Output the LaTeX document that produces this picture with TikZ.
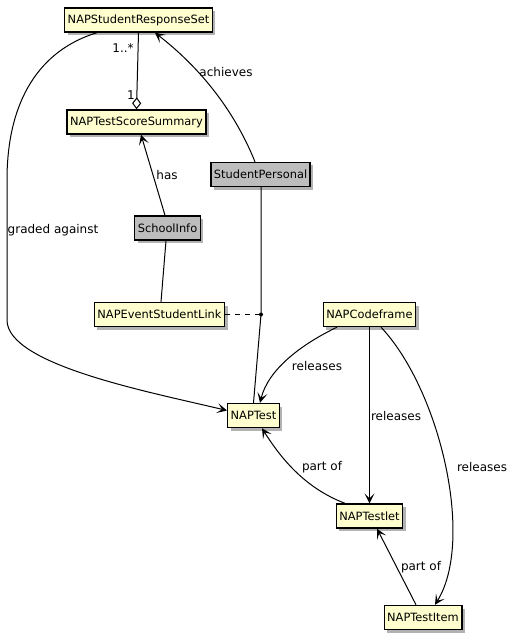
\documentclass[tikz,border=0pt]{standalone}
\usepackage{fontspec}
\setmainfont{DejaVu Sans}
\usetikzlibrary{arrows.meta,shadows}
\definecolor{classyellow}{HTML}{FEFECE}
\definecolor{classgray}{HTML}{BDBDBD}
\tikzset{
  cls/.style={draw=black, line width=1.4bp, fill=classyellow, minimum height=24bp,
    inner xsep=3bp, inner ysep=0bp, font=\fontsize{11.4bp}{13bp}\selectfont,
    drop shadow={shadow xshift=3bp, shadow yshift=-3bp, fill=black, opacity=0.3}},
  grcls/.style={cls, fill=classgray},
  lbl/.style={font=\fontsize{12bp}{14bp}\selectfont, inner sep=0pt},
  conn/.style={line width=1bp, draw=black},
  arr/.style={conn, -{Stealth[length=10bp,width=10bp,inset=5bp]}},
  agg/.style={conn, -{Diamond[fill=white,length=12bp,width=9bp,line width=1bp]}}
}
\begin{document}
\begin{tikzpicture}[x=1bp,y=-1bp]
\useasboundingbox (0,0) rectangle (519,639);
\node[cls] (srs) at (138.5,20) {NAPStudentResponseSet};
\node[cls] (tss) at (136.5,122) {NAPTestScoreSummary};
\node[grcls] (sp) at (260.5,174.5) {StudentPersonal};
\node[grcls] (si) at (167.5,228) {SchoolInfo};
\node[cls] (esl) at (159.5,314.5) {NAPEventStudentLink};
\node[cls] (cf) at (369.5,314.5) {NAPCodeframe};
\node[cls] (test) at (253.5,415.5) {NAPTest};
\node[cls] (tlet) at (369.5,516) {NAPTestlet};
\node[cls] (titem) at (423,617.5) {NAPTestItem};
\coordinate (dot) at (261,314.5);

% aggregation
\draw[agg] (srs.south) -- (tss.north);
\node[lbl] (m1) at (123,48) {1..*};
\node[lbl] (m2) at (131,95) {1};

% achieves
\draw[arr] ([xshift=-5.5bp]sp.north) .. controls (230,100) and (190,60) .. ([xshift=16.5bp]srs.south);
\node[lbl] (l1) at (226,72) {achieves};

% has
\draw[arr] ([xshift=-2.5bp]si.north) -- ([xshift=4.5bp]tss.south);
\node[lbl] (l2) at (167,175) {has};

% school -> link
\draw[conn] ([xshift=-1.5bp]si.south) -- ([xshift=1.5bp]esl.north);

% student personal -> test via dot
\draw[conn] ([xshift=0.5bp]sp.south) -- (dot) -- (test.north);
\fill (dot) circle (2bp);
\draw[conn, dashed, dash pattern=on 5bp off 5bp] (esl.east) -- (dot);

% graded against
\draw[arr] ([xshift=-41.5bp]srs.south) .. controls (40,50) and (7,100) .. (7,180)
  -- (7,320) .. controls (7,365) and (150,392) .. ([yshift=5bp]test.west);
\node[lbl] (l3) at (53,230) {graded against};

% codeframe releases
\draw[arr] ([xshift=-32.5bp]cf.south) .. controls (300,345) and (268,370) .. ([xshift=6.5bp]test.north);
\node[lbl] (l4) at (317,366) {releases};
\draw[arr] (cf.south) -- (tlet.north);
\node[lbl] (l5) at (396,416) {releases};
\draw[arr] ([xshift=11.5bp]cf.south) .. controls (440,390) and (475,540) .. ([xshift=12bp]titem.north);
\node[lbl] (l6) at (482,467) {releases};

% part of
\draw[arr] ([xshift=-24.5bp]tlet.north) .. controls (310,490) and (285,465) .. ([xshift=8.5bp]test.south);
\node[lbl] (l7) at (322,467) {part of};
\draw[arr] ([xshift=-7bp]titem.north) -- ([xshift=7.5bp]tlet.south);
\node[lbl] (l8) at (421,567) {part of};
\end{tikzpicture}
\end{document}
